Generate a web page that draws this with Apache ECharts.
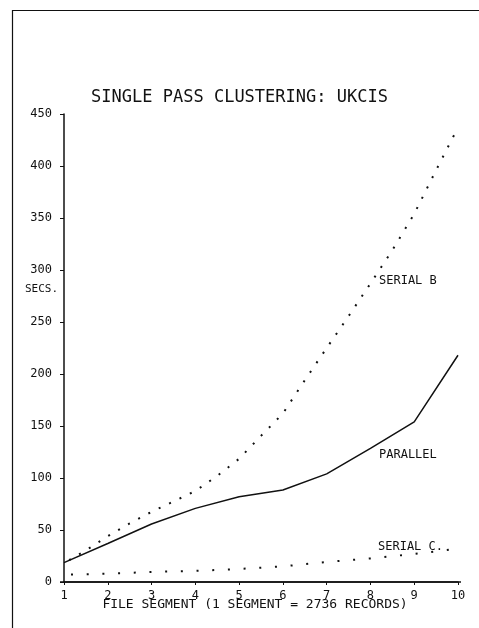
<!DOCTYPE html>
<html>
<head>
<meta charset="utf-8">
<script src="https://cdn.jsdelivr.net/npm/echarts@6/dist/echarts.min.js"></script>
<style>
  html, body { margin: 0; padding: 0; background: #fff; }
  #chart { width: 479px; height: 628px; }
</style>
</head>
<body>
<div id="chart"></div>
<script>
// file segments (x) and timings in seconds
var segments = [1, 2, 3, 4, 5, 6, 7, 8, 9, 10];
var parallel = [18.6, 37, 55.8, 70.8, 82, 88.5, 104, 128.5, 154, 218];
var serialBSegs = [1, 1.5, 2, 2.5, 3, 3.5, 4, 4.5, 5, 5.5, 6, 6.5, 7, 7.5, 8, 8.5, 9, 9.5, 10];
var serialB = [18, 30.5, 44, 56.3, 67.5, 77.4, 87.5, 102, 118.5, 140.5, 162, 194, 225, 255.6, 287, 319, 354, 396, 437];
var serialC = [7, 8, 9.7, 10.7, 12.5, 15, 19.3, 22.7, 27, 32];
var yTicks = [0, 50, 100, 150, 200, 250, 300, 350, 400, 450];

var mono = 'DejaVu Sans Mono';
var ink = '#111';

function pairs(xs, ys) {
  return xs.map(function (x, i) { return [x, ys[i]]; });
}

var myChart = echarts.init(document.getElementById('chart'));
var option = {
  backgroundColor: '#fff',
  animation: false,
  title: {
    text: 'SINGLE PASS CLUSTERING: UKCIS',
    left: 'center',
    top: 84,
    textStyle: { fontFamily: mono, fontSize: 17, fontWeight: 'normal', color: ink }
  },
  grid: {
    left: 64,
    right: 21,
    top: 114,
    bottom: 46,
    containLabel: false,
    outerBoundsMode: 'none'
  },
  xAxis: {
    type: 'value',
    min: 1,
    max: 10,
    interval: 1,
    name: 'FILE SEGMENT (1 SEGMENT = 2736 RECORDS)',
    nameLocation: 'middle',
    nameGap: 16,
    nameMoveOverlap: false,
    nameTextStyle: { fontFamily: mono, fontSize: 13, color: ink, padding: [0, 12, 0, 0] },
    splitLine: { show: false },
    axisLine: { lineStyle: { color: ink, width: 1.5 } },
    axisTick: { length: 3, lineStyle: { color: ink, width: 1 } },
    axisLabel: { fontFamily: mono, fontSize: 12, color: ink, margin: 8 }
  },
  yAxis: {
    type: 'value',
    min: 0,
    max: 450,
    interval: 50,
    splitLine: { show: false },
    axisLine: { lineStyle: { color: ink, width: 1.5 } },
    axisTick: { length: 4, lineStyle: { color: ink, width: 1 } },
    axisLabel: {
      fontFamily: mono, fontSize: 12, color: ink, margin: 12,
      formatter: function (v) { return yTicks.indexOf(v) >= 0 ? String(v) : ''; }
    }
  },
  series: [
    {
      name: 'PARALLEL',
      type: 'line',
      data: pairs(segments, parallel),
      symbol: 'none',
      lineStyle: { color: ink, width: 1.5 }
    },
    {
      name: 'SERIAL B',
      type: 'line',
      data: pairs(serialBSegs, serialB),
      symbol: 'none',
      lineStyle: { color: ink, width: 2, type: [2, 9.5], dashOffset: -6, cap: 'butt' }
    },
    {
      name: 'SERIAL C',
      type: 'line',
      data: pairs(segments, serialC),
      symbol: 'none',
      lineStyle: { color: ink, width: 2, type: [2, 13.7], dashOffset: -7, cap: 'butt' }
    }
  ],
  graphic: [
    // scanned page frame
    { type: 'polyline', shape: { points: [[12.5, 628], [12.5, 10.5], [479, 10.5]] },
      style: { stroke: ink, lineWidth: 1.2, fill: null }, silent: true },
    // stretch of the x axis line just past both ends, as on the plotter
    { type: 'line', shape: { x1: 60, y1: 582, x2: 461, y2: 582 },
      style: { stroke: ink, lineWidth: 1.5 }, silent: true },
    { type: 'text', left: 25, top: 284,
      style: { text: 'SECS.', font: '11px ' + mono, fill: ink } },
    { type: 'text', left: 379, top: 275,
      style: { text: 'SERIAL B', font: '12px ' + mono, fill: ink } },
    { type: 'text', left: 379, top: 449,
      style: { text: 'PARALLEL', font: '12px ' + mono, fill: ink } },
    { type: 'text', left: 378, top: 541,
      style: { text: 'SERIAL C.', font: '12px ' + mono, fill: ink } }
  ]
};
myChart.setOption(option);
</script>
</body>
</html>
